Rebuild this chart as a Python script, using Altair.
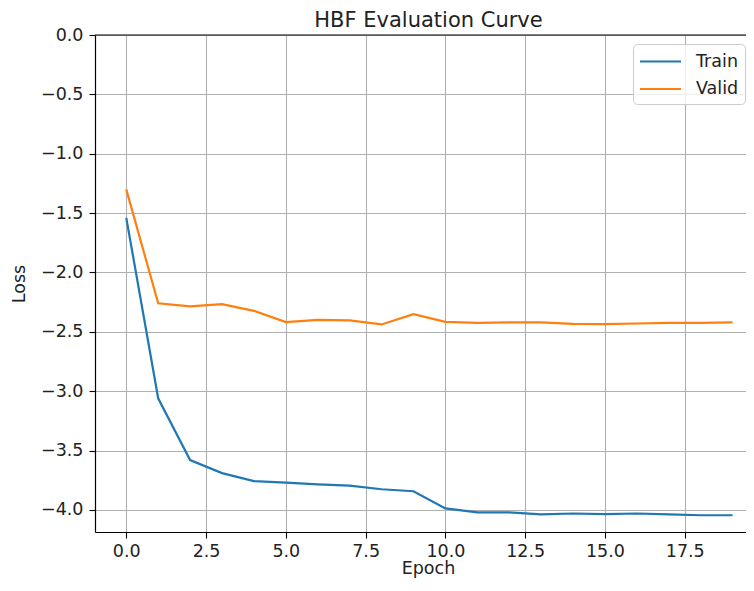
import altair as alt
import pandas as pd

# ---- data ----
epochs = list(range(20))
train_loss = [-1.54, -3.06, -3.58, -3.69, -3.757, -3.77, -3.785, -3.796, -3.826, -3.843,
              -3.987, -4.02, -4.02, -4.037, -4.03, -4.035, -4.03, -4.037, -4.045, -4.045]
valid_loss = [-1.30, -2.26, -2.286, -2.267, -2.323, -2.418, -2.399, -2.404, -2.438, -2.351,
              -2.416, -2.424, -2.42, -2.42, -2.433, -2.436, -2.43, -2.424, -2.424, -2.42]
series_names = ["Train", "Valid"]
series_colors = ["#1f77b4", "#ff7f0e"]
x_ticks = [0, 2.5, 5, 7.5, 10, 12.5, 15, 17.5]
y_ticks = [0, -0.5, -1.0, -1.5, -2.0, -2.5, -3.0, -3.5, -4.0]

rows = []
for name, vals in zip(series_names, [train_loss, valid_loss]):
    for e, v in zip(epochs, vals):
        rows.append({"Epoch": e, "Loss": v, "Series": name})
df = pd.DataFrame(rows)

W, H = 651, 497
FONT = "DejaVu Sans"
TXT = "#222222"

lines = alt.Chart(df).mark_line(strokeWidth=2.2, clip=True).encode(
    x=alt.X("Epoch:Q",
            scale=alt.Scale(domain=[-0.98, 19.42], nice=False, zero=False),
            axis=alt.Axis(values=x_ticks, format=".1f", title="Epoch",
                          grid=True, gridColor="#b0b0b0", gridWidth=1.1,
                          domainColor="black", domainWidth=1.2,
                          tickColor="black", tickSize=6, tickWidth=1.1,
                          labelFont=FONT, labelFontSize=17.5, labelColor=TXT,
                          labelPadding=4, labelFlush=False,
                          titleFont=FONT, titleFontSize=17.5, titleFontWeight="normal",
                          titleColor=TXT, titlePadding=0, titleX=333)),
    y=alt.Y("Loss:Q",
            scale=alt.Scale(domain=[-4.186, 0], nice=False, zero=False),
            axis=alt.Axis(values=y_ticks, format=".1f", title="Loss",
                          grid=True, gridColor="#b0b0b0", gridWidth=1.1,
                          domainColor="black", domainWidth=1.2,
                          tickColor="black", tickSize=6, tickWidth=1.1,
                          labelFont=FONT, labelFontSize=17.5, labelColor=TXT,
                          labelPadding=6, labelFlush=False,
                          titleFont=FONT, titleFontSize=17.5, titleFontWeight="normal",
                          titleColor=TXT, titlePadding=12)),
    color=alt.Color("Series:N",
                    scale=alt.Scale(domain=series_names, range=series_colors),
                    legend=alt.Legend(title=None, orient="none", legendX=538, legendY=9,
                                      symbolType="M-2,0H2", symbolSize=420,
                                      symbolFillColor="transparent",
                                      symbolStrokeWidth=2.2, symbolOffset=10,
                                      labelFont=FONT, labelFontSize=17.5, labelColor=TXT,
                                      labelOffset=24, rowPadding=7.5,
                                      padding=6, fillColor="rgba(255,255,255,0.8)",
                                      strokeColor="#cccccc", cornerRadius=4)),
)

top_spine = alt.Chart(pd.DataFrame({"a": [0]})).mark_rule(color="black", strokeWidth=1.2).encode(
    x=alt.value(0), x2=alt.value(W), y=alt.value(0)
)

chart = alt.layer(lines, top_spine).properties(
    width=W, height=H,
    title=alt.TitleParams("HBF Evaluation Curve", font=FONT, fontSize=21,
                          fontWeight="normal", color=TXT, offset=6, dx=8, dy=11,
                          frame="group"),
    autosize=alt.AutoSizeParams(type="none"),
    padding={"left": 87, "top": 27, "right": 0, "bottom": 50},
).configure_view(stroke=None).configure(background="white")

chart.save("out.html", embed_options={"renderer": "svg", "actions": False})
